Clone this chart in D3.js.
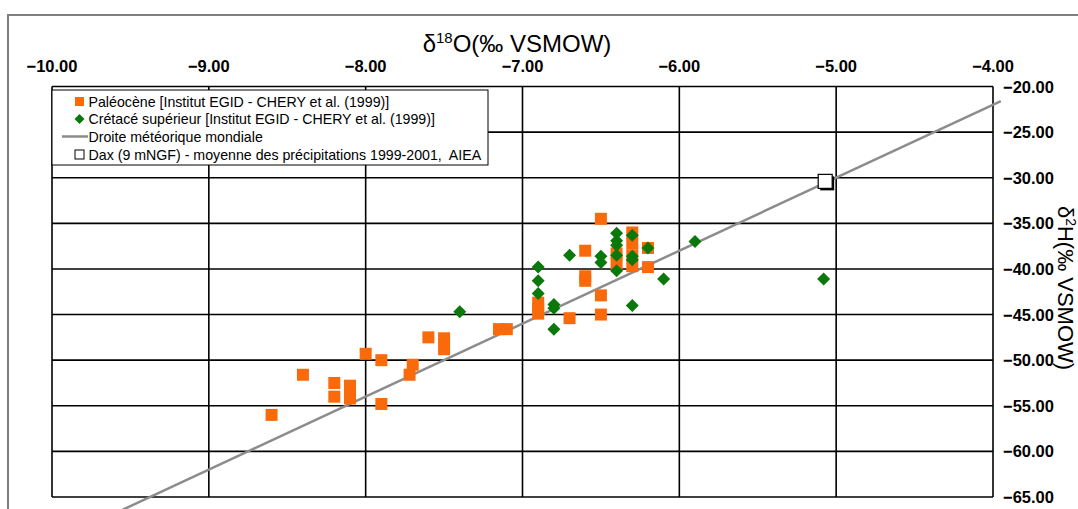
<!DOCTYPE html>
<html>
<head>
<meta charset="utf-8">
<script src="https://cdn.jsdelivr.net/npm/d3@7"></script>
<style>
  html, body { margin: 0; padding: 0; background: #ffffff; }
  svg { display: block; font-family: "Liberation Sans", Arial, sans-serif; }
</style>
</head>
<body>
<svg id="chart" width="1078" height="509"></svg>
<script>
// ---- Data ----
const xTicks = [-10, -9, -8, -7, -6, -5, -4];
const yTicks = [-20, -25, -30, -35, -40, -45, -50, -55, -60, -65];

const paleoX = [-8.60, -8.40, -8.20, -8.20, -8.10, -8.10, -8.10, -8.00, -7.90, -7.90,
                -7.72, -7.70, -7.60, -7.50, -7.50, -7.15, -7.10, -6.90, -6.90, -6.90,
                -6.70, -6.60, -6.60, -6.60, -6.50, -6.50, -6.50, -6.40, -6.40, -6.30,
                -6.30, -6.30, -6.30, -6.20, -6.20];
const paleoY = [-56.0, -51.6, -52.5, -54.0, -52.8, -53.5, -54.2, -49.3, -50.0, -54.8,
                -51.6, -50.5, -47.5, -47.6, -48.8, -46.6, -46.6, -43.7, -44.3, -44.9,
                -45.4, -38.0, -40.8, -41.3, -34.5, -42.9, -45.0, -38.3, -39.4, -36.0,
                -37.2, -38.5, -39.7, -37.7, -39.8];

const cretX = [-7.40, -6.90, -6.90, -6.90, -6.80, -6.80, -6.80, -6.70, -6.50, -6.50,
               -6.40, -6.40, -6.40, -6.40, -6.40, -6.30, -6.30, -6.30, -6.30, -6.20,
               -6.10, -5.90, -5.08];
const cretY = [-44.7, -39.8, -41.3, -42.7, -43.9, -44.3, -46.6, -38.5, -38.6, -39.3,
               -36.1, -36.9, -37.4, -38.5, -40.2, -36.3, -38.6, -39.0, -44.0, -37.7,
               -41.1, -37.0, -41.1];

const lineX = [-9.6, -3.95];
const lineY = [-66.8, -21.6];

const daxX = [-5.07];
const daxY = [-30.4];

const legendLabels = [
  "Paléocène [Institut EGID - CHERY et al. (1999)]",
  "Crétacé supérieur [Institut EGID - CHERY et al. (1999)]",
  "Droite météorique mondiale",
  "Dax (9 mNGF) - moyenne des précipitations 1999-2001,  AIEA"
];

// ---- Layout ----
const plot = { left: 52, right: 993, top: 86.5, bottom: 497 };
const orange = "#fa6a0a";
const green = "#0a780a";

const svg = d3.select("#chart");
const x = d3.scaleLinear().domain([-10, -4]).range([plot.left, plot.right]);
const y = d3.scaleLinear().domain([-20, -65]).range([plot.top, plot.bottom]);

// outer frame
svg.append("path")
  .attr("d", "M8,509 L8,15 L1078,15")
  .attr("fill", "none").attr("stroke", "#7f7f7f").attr("stroke-width", 2);

// gridlines
const grid = svg.append("g");
grid.selectAll("line.v").data(xTicks).join("line")
  .attr("x1", d => x(d)).attr("x2", d => x(d))
  .attr("y1", plot.top).attr("y2", plot.bottom)
  .attr("stroke", "#000").attr("stroke-width", 1.6);
grid.selectAll("line.h").data(yTicks).join("line")
  .attr("y1", d => y(d)).attr("y2", d => y(d))
  .attr("x1", plot.left).attr("x2", plot.right)
  .attr("stroke", "#000").attr("stroke-width", 1.6);

// x tick labels (top)
svg.append("g").selectAll("text").data(xTicks).join("text")
  .attr("x", d => x(d)).attr("y", 72)
  .attr("text-anchor", "middle")
  .attr("font-size", 16.5).attr("font-weight", "bold")
  .text(d => d3.format(".2f")(d));

// y tick labels (right)
svg.append("g").selectAll("text").data(yTicks).join("text")
  .attr("x", 1003).attr("y", d => y(d) + 6)
  .attr("text-anchor", "start")
  .attr("font-size", 16.5).attr("font-weight", "bold")
  .text(d => d3.format(".2f")(d));

// titles
const t1 = svg.append("text").attr("x", 517).attr("y", 52)
  .attr("text-anchor", "middle").attr("font-size", 24);
t1.append("tspan").text("δ");
t1.append("tspan").attr("font-size", 15).attr("dy", -9).text("18");
t1.append("tspan").attr("dy", 9).text("O(‰ VSMOW)");

const t2 = svg.append("text")
  .attr("transform", "translate(1058,288) rotate(90)")
  .attr("text-anchor", "middle").attr("font-size", 22);
t2.append("tspan").text("δ");
t2.append("tspan").attr("font-size", 14).attr("dy", -8).text("2");
t2.append("tspan").attr("dy", 8).text("H(‰ VSMOW)");

// meteoric line
svg.append("path")
  .datum(d3.zip(lineX, lineY))
  .attr("d", d3.line().x(d => x(d[0])).y(d => y(d[1])))
  .attr("fill", "none").attr("stroke", "#8c8c8c").attr("stroke-width", 2.5);

// Paléocène squares
const sq = 12;
svg.append("g").selectAll("rect").data(d3.zip(paleoX, paleoY)).join("rect")
  .attr("x", d => x(d[0]) - sq / 2).attr("y", d => y(d[1]) - sq / 2)
  .attr("width", sq).attr("height", sq).attr("fill", orange);

// Crétacé diamonds
const dm = 6.5;
svg.append("g").selectAll("path").data(d3.zip(cretX, cretY)).join("path")
  .attr("transform", d => `translate(${x(d[0])},${y(d[1])})`)
  .attr("d", `M0,${-dm} L${dm},0 L0,${dm} L${-dm},0 Z`)
  .attr("fill", green);

// Dax
const dx = 14;
const dax = svg.append("g").selectAll("g").data(d3.zip(daxX, daxY)).join("g")
  .attr("transform", d => `translate(${x(d[0])},${y(d[1])})`);
dax.append("rect").attr("x", -dx / 2 + 2).attr("y", -dx / 2 + 2)
  .attr("width", dx).attr("height", dx).attr("fill", "#000");
dax.append("rect").attr("x", -dx / 2).attr("y", -dx / 2)
  .attr("width", dx).attr("height", dx).attr("fill", "#fff")
  .attr("stroke", "#000").attr("stroke-width", 1.2);

// legend
const lg = svg.append("g");
lg.append("rect").attr("x", 52).attr("y", 90).attr("width", 436).attr("height", 75)
  .attr("fill", "#fff").attr("stroke", "#000").attr("stroke-width", 1);
const rowY = [101.5, 119, 136.5, 154.5];
lg.selectAll("text").data(legendLabels).join("text")
  .attr("x", 88.5).attr("y", (d, i) => rowY[i] + 5)
  .attr("font-size", 14.2).style("white-space", "pre").text(d => d);
lg.append("rect").attr("x", 75).attr("y", rowY[0] - 4.5).attr("width", 9).attr("height", 9).attr("fill", orange);
lg.append("path").attr("transform", `translate(79.5,${rowY[1]})`)
  .attr("d", "M0,-5 L5,0 L0,5 L-5,0 Z").attr("fill", green);
lg.append("line").attr("x1", 62).attr("x2", 88).attr("y1", rowY[2]).attr("y2", rowY[2])
  .attr("stroke", "#8c8c8c").attr("stroke-width", 2.5);
lg.append("rect").attr("x", 75).attr("y", rowY[3] - 4.5).attr("width", 9).attr("height", 9)
  .attr("fill", "#fff").attr("stroke", "#000").attr("stroke-width", 1);
</script>
</body>
</html>
